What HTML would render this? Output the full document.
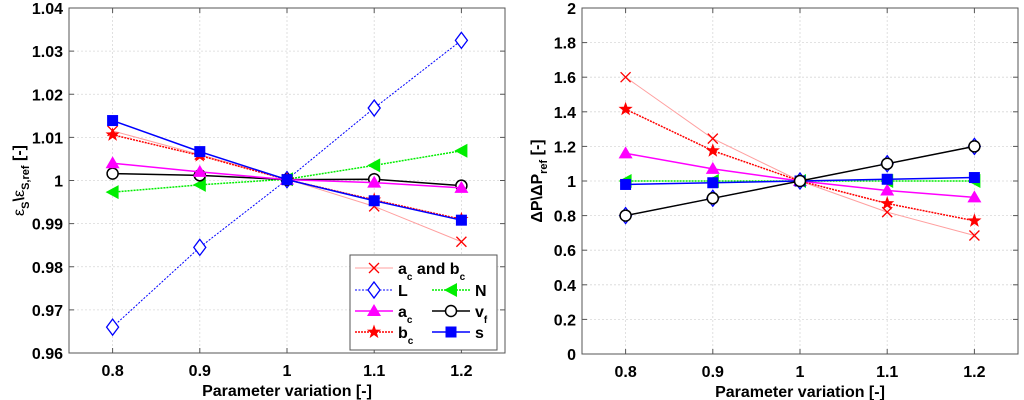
<!DOCTYPE html>
<html><head><meta charset="utf-8"><style>
html,body{margin:0;padding:0;background:#fff;width:1024px;height:400px;overflow:hidden}
svg text{font-family:"Liberation Sans",Arial,sans-serif;font-weight:bold;fill:#000}
</style></head><body>
<svg id="chart" width="1024" height="400" xmlns="http://www.w3.org/2000/svg"></svg>
<script>
const xCats = [0.8, 0.9, 1.0, 1.1, 1.2];
const xTickLabels = ["0.8","0.9","1","1.1","1.2"];
const leftYTicks = [0.96,0.97,0.98,0.99,1.0,1.01,1.02,1.03,1.04];
const leftYTickLabels = ["0.96","0.97","0.98","0.99","1","1.01","1.02","1.03","1.04"];
const rightYTicks = [0,0.2,0.4,0.6,0.8,1,1.2,1.4,1.6,1.8,2];
const rightYTickLabels = ["0","0.2","0.4","0.6","0.8","1","1.2","1.4","1.6","1.8","2"];
// left panel
const L_acbc = [1.0115, 1.0060, 1.0003, 0.9940, 0.9858];
const L_L    = [0.9660, 0.9845, 1.0002, 1.0168, 1.0325];
const L_ac   = [1.0040, 1.0020, 1.0002, 0.9995, 0.9983];
const L_bc   = [1.0106, 1.0058, 1.0002, 0.9955, 0.9910];
const L_N    = [0.9973, 0.9990, 1.0003, 1.0035, 1.0069];
const L_vf   = [1.0016, 1.0012, 1.0002, 1.0003, 0.9988];
const L_s    = [1.0139, 1.0067, 1.0002, 0.9953, 0.9908];
// right panel
const R_acbc = [1.60, 1.245, 1.0, 0.82, 0.685];
const R_L    = [0.80, 0.90, 1.0, 1.10, 1.20];
const R_ac   = [1.16, 1.07, 1.0, 0.945, 0.905];
const R_bc   = [1.415, 1.175, 1.0, 0.87, 0.77];
const R_N    = [1.0, 1.0, 1.0, 1.0, 1.0];
const R_vf   = [0.80, 0.90, 1.0, 1.10, 1.20];
const R_s    = [0.98, 0.99, 1.0, 1.01, 1.02];

const NS="http://www.w3.org/2000/svg";
const svg=document.getElementById('chart');
function el(tag,attrs,parent){const e=document.createElementNS(NS,tag);for(const k in attrs)e.setAttribute(k,attrs[k]);(parent||svg).appendChild(e);return e;}

const styles={
 acbc:{color:"#ff9f9f",mk:"#ff0000",dash:"",w:1,marker:"x"},
 L:{color:"#0000ff",mk:"#0000ff",dash:"2,1.5",w:1,marker:"diamond"},
 ac:{color:"#ff00ff",mk:"#ff00ff",dash:"",w:1.5,marker:"tri"},
 bc:{color:"#ff0000",mk:"#ff0000",dash:"2,1",w:1.5,marker:"star"},
 N:{color:"#00ee00",mk:"#00ee00",dash:"2,1",w:1.5,marker:"tril"},
 vf:{color:"#000000",mk:"#000000",dash:"",w:1.5,marker:"circle"},
 s:{color:"#0000ff",mk:"#0000ff",dash:"",w:1.5,marker:"square"}
};
function marker(g,type,x,y,st){
 const c=st.mk;
 if(type==="x"){el('path',{d:`M${x-5},${y-5}L${x+5},${y+5}M${x-5},${y+5}L${x+5},${y-5}`,stroke:c,'stroke-width':1.3},g);}
 else if(type==="diamond"){el('path',{d:`M${x},${y-8}L${x+6},${y}L${x},${y+8}L${x-6},${y}Z`,fill:'#fff',stroke:c,'stroke-width':1.3},g);}
 else if(type==="tri"){el('path',{d:`M${x},${y-7}L${x+7},${y+5}L${x-7},${y+5}Z`,fill:c},g);}
 else if(type==="tril"){el('path',{d:`M${x-7},${y}L${x+6},${y-7}L${x+6},${y+7}Z`,fill:c},g);}
 else if(type==="star"){let p="";for(let i=0;i<10;i++){const r=i%2?3:7.5,a=-Math.PI/2+i*Math.PI/5;p+=(i?"L":"M")+(x+r*Math.cos(a)).toFixed(1)+","+(y+r*Math.sin(a)).toFixed(1);}el('path',{d:p+"Z",fill:c},g);}
 else if(type==="circle"){el('circle',{cx:x,cy:y,r:5.5,fill:'#fff',stroke:c,'stroke-width':1.5},g);}
 else if(type==="square"){el('rect',{x:x-5.5,y:y-5.5,width:11,height:11,fill:c},g);}
}
function panel(name,L,R,T,B,ymin,ymax,yt,ytl,series,ylabel){
 const g=el('g',{});
 
 
 const xs=v=>L+(v-0.75)/0.5*(R-L);
 const ys=v=>B-(v-ymin)/(ymax-ymin)*(B-T);
 el('rect',{x:L,y:T,width:R-L,height:B-T,fill:'#fff'},g);
 const grid=el('g',{stroke:'#d8d8d8','stroke-width':0.8,'stroke-dasharray':'2,2'},g);
 
 xCats.forEach(v=>el('line',{x1:xs(v),x2:xs(v),y1:T,y2:B},grid));
 yt.forEach(v=>el('line',{x1:L,x2:R,y1:ys(v),y2:ys(v)},grid));
 xCats.forEach((v,i)=>{el('line',{x1:xs(v),x2:xs(v),y1:B,y2:B-5,stroke:'#555'},g);el('line',{x1:xs(v),x2:xs(v),y1:T,y2:T+5,stroke:'#555'},g);
  const t=el('text',{x:xs(v),y:B+23,'text-anchor':'middle','font-size':16},g);t.textContent=xTickLabels[i];
  });
 yt.forEach((v,i)=>{el('line',{x1:L,x2:L+5,y1:ys(v),y2:ys(v),stroke:'#555'},g);el('line',{x1:R,x2:R-5,y1:ys(v),y2:ys(v),stroke:'#555'},g);
  const t=el('text',{x:L-6,y:ys(v)+6,'text-anchor':'end','font-size':16},g);t.textContent=ytl[i];
  });
 const xt=el('text',{x:(L+R)/2,y:B+43,'text-anchor':'middle','font-size':16},g);xt.textContent="Parameter variation [-]";
 
 ylabel(g,T,B);
 series.forEach(([key,vals])=>{const st=styles[key];const sg=el('g',{},g);
  
  el('polyline',{points:vals.map((v,i)=>xs(xCats[i])+","+ys(v)).join(" "),fill:'none',stroke:st.color,'stroke-width':st.w,'stroke-dasharray':st.dash},sg);
  vals.forEach((v,i)=>marker(sg,st.marker,xs(xCats[i]),ys(v),st));});
 el('rect',{x:L,y:T,width:R-L,height:B-T,fill:'none',stroke:'#555','stroke-width':1},g);
 return g;
}
panel('left-plot',69,505,8,353,0.96,1.04,leftYTicks,leftYTickLabels,
 [['acbc',L_acbc],['L',L_L],['N',L_N],['vf',L_vf],['ac',L_ac],['bc',L_bc],['s',L_s]],
 (g,T,B)=>{const t=el('text',{transform:`translate(24,${(T+B)/2}) rotate(-90)`,'text-anchor':'middle','font-size':16},g);
  t.innerHTML='<tspan font-weight="normal">ε</tspan><tspan font-size="11" dy="5">S</tspan><tspan dy="-5">\\</tspan><tspan font-weight="normal">ε</tspan><tspan font-size="11" dy="5">S,ref</tspan><tspan dy="-5"> [-]</tspan>';
  });
panel('right-plot',582,1018,8,354,0,2,rightYTicks,rightYTickLabels,
 [['acbc',R_acbc],['bc',R_bc],['ac',R_ac],['N',R_N],['s',R_s],['L',R_L],['vf',R_vf]],
 (g,T,B)=>{const t=el('text',{transform:`translate(542,${(T+B)/2}) rotate(-90)`,'text-anchor':'middle','font-size':16},g);
  t.innerHTML='ΔP\\ΔP<tspan font-size="11" dy="5">ref</tspan><tspan dy="-5"> [-]</tspan>';
  });
// legend
const lg=el('g',{});


el('rect',{x:350,y:255,width:147,height:95,fill:'#fff',stroke:'#555','stroke-width':1},lg);
const items=[['acbc',355,268,'a','c',' and b','c'],['L',355,290,'L','','',''],['N',432,290,'N','','',''],['ac',355,311,'a','c','',''],['vf',432,311,'v','f','',''],['bc',355,332,'b','c','',''],['s',432,332,'s','','','']];
items.forEach(([k,x,y,a,sa,b,sb])=>{const st=styles[k];const ig=el('g',{},lg);
 
 el('line',{x1:x,x2:x+38,y1:y,y2:y,stroke:st.color,'stroke-width':st.w,'stroke-dasharray':st.dash},ig);
 marker(ig,st.marker,x+19,y,st);
 const t=el('text',{x:x+43,y:y+6,'font-size':16},ig);
 t.innerHTML=a+(sa?`<tspan font-size="10" dy="6">${sa}</tspan><tspan dy="-6">${b}</tspan>`:'')+(sb?`<tspan font-size="10" dy="6">${sb}</tspan>`:'');});
</script>
</body></html>
